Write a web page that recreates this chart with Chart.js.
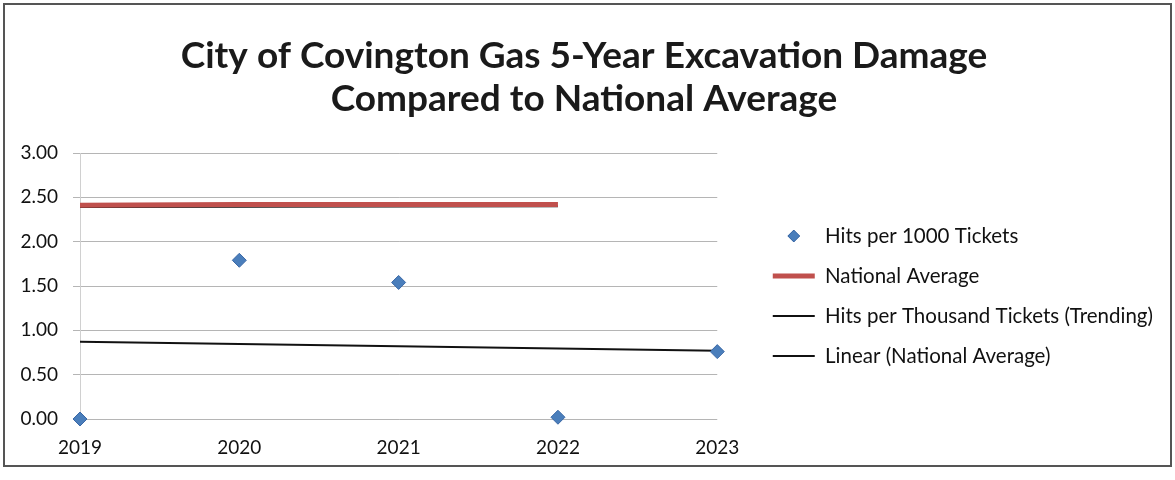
<!DOCTYPE html>
<html>
<head>
<meta charset="utf-8">
<script src="https://cdn.jsdelivr.net/npm/chart.js@4"></script>
<style>
  body { margin: 0; background: #fff; }
  #wrap { position: absolute; left: 3px; top: 3px; width: 1165px; height: 460px; border: 2px solid #555; }
</style>
</head>
<body>
<div id="wrap"><canvas id="chart-damage"></canvas></div>
<script>
// data
const years = [2019, 2020, 2021, 2022, 2023];
const hitsPer1000 = [0.0, 1.79, 1.54, 0.02, 0.76];
const nationalYears = [2019, 2020, 2021, 2022];
const nationalAvg = [2.41, 2.42, 2.42, 2.42];
const trendYears = [2019, 2023];
const trendHits = [0.87, 0.77];
const linearNatYears = [2019, 2022];
const linearNat = [2.39, 2.40];
const yTicks = [0, 0.5, 1, 1.5, 2, 2.5, 3];

const pts = (xs, ys) => xs.map((x, i) => ({ x: x, y: ys[i] }));

const FONT = "Lato, 'Open Sans', sans-serif";
const BLUE = "#4a7ebb";
const RED = "#c0504d";

// legend diamond icon
const diamond = document.createElement("canvas");
diamond.width = 14;
diamond.height = 14;
(function () {
  const c = diamond.getContext("2d");
  c.beginPath();
  c.moveTo(7, 1);
  c.lineTo(13, 7);
  c.lineTo(7, 13);
  c.lineTo(1, 7);
  c.closePath();
  c.fillStyle = BLUE;
  c.fill();
  c.strokeStyle = "#3a68a6";
  c.stroke();
})();

new Chart(document.getElementById("chart-damage"), {
  type: "scatter",
  data: {
    datasets: [
      {
        label: "Hits per 1000 Tickets",
        data: pts(years, hitsPer1000),
        pointStyle: "rectRot",
        pointRadius: 7,
        backgroundColor: BLUE,
        borderColor: "#3a68a6",
        borderWidth: 1,
        showLine: false,
        clip: false,
        order: 0,
      },
      {
        label: "National Average",
        data: pts(nationalYears, nationalAvg),
        showLine: true,
        borderColor: RED,
        backgroundColor: RED,
        borderWidth: 5,
        pointRadius: 0,
        order: 1,
      },
      {
        label: "Hits per Thousand Tickets (Trending)",
        data: pts(trendYears, trendHits),
        showLine: true,
        borderColor: "#111",
        backgroundColor: "#111",
        borderWidth: 2,
        pointRadius: 0,
        order: 2,
      },
      {
        label: "Linear (National Average)",
        data: pts(linearNatYears, linearNat),
        showLine: true,
        borderColor: "#111",
        backgroundColor: "#111",
        borderWidth: 2,
        pointRadius: 0,
        order: 3,
      },
    ],
  },
  options: {
    responsive: true,
    maintainAspectRatio: false,
    animation: false,
    layout: { padding: { left: 0, right: 7, top: 0, bottom: 0 } },
    plugins: {
      title: {
        display: true,
        text: ["City of Covington Gas 5-Year Excavation Damage", "Compared to National Average"],
        color: "#1a1a1a",
        font: { family: FONT, size: 37, weight: "bold", lineHeight: "43px" },
        padding: { top: 30, bottom: 32 },
      },
      legend: {
        position: "right",
        fullSize: false,
        maxWidth: 600,
        title: { display: true, text: "", font: { size: 1, lineHeight: 1 }, padding: { top: 19, bottom: 0 } },
        labels: {
          usePointStyle: true,
          pointStyleWidth: 42,
          padding: 19.5,
          color: "#111",
          font: { family: FONT, size: 20.5 },
          generateLabels: (chart) => {
            const items = Chart.defaults.plugins.legend.labels.generateLabels(chart);
            items.forEach((it, i) => {
              it.pointStyle = i === 0 ? diamond : "line";
            });
            return items;
          },
        },
      },
      tooltip: { enabled: false },
    },
    scales: {
      x: {
        type: "linear",
        min: years[0],
        max: years[years.length - 1],
        grid: { display: false, drawTicks: false },
        border: { display: false },
        afterFit: (axis) => {
          axis.height = 46;
        },
        ticks: {
          stepSize: 1,
          padding: 17,
          color: "#111",
          font: { family: FONT, size: 19 },
          callback: (v) => String(v),
        },
      },
      y: {
        min: 0,
        max: 3,
        afterBuildTicks: (axis) => {
          axis.ticks = yTicks.map((v) => ({ value: v }));
        },
        afterFit: (axis) => {
          axis.width = 75;
        },
        grid: { color: "#b5b5b5", tickLength: 7, tickColor: "#b5b5b5" },
        border: { display: true, color: "#d0d0d0" },
        ticks: {
          padding: 15,
          color: "#111",
          font: { family: FONT, size: 19 },
          callback: (v) => v.toFixed(2),
        },
      },
      gap: {
        position: "right",
        display: true,
        grid: { display: false, drawTicks: false },
        border: { display: false },
        ticks: { display: false },
        afterFit: (axis) => {
          axis.width = 36;
        },
      },
    },
  },
});
</script>
</body>
</html>
